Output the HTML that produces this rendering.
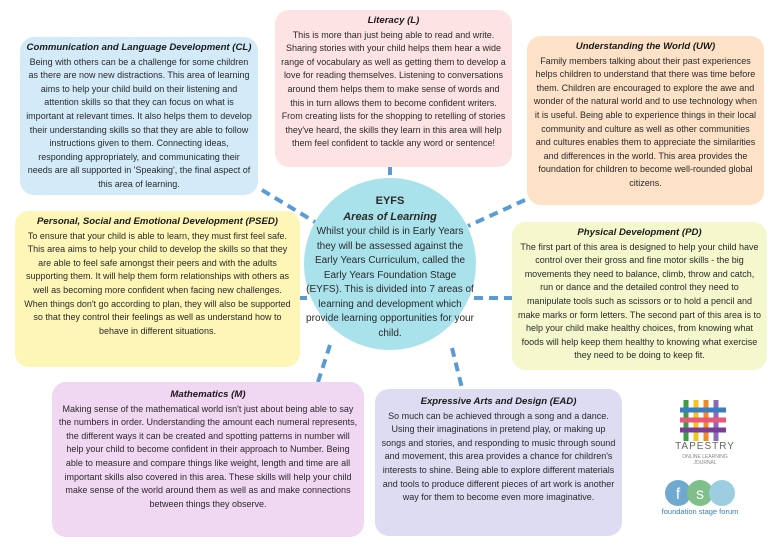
<!DOCTYPE html>
<html><head><meta charset="utf-8"><style>
body{margin:0;width:780px;height:549px;background:#fff;position:relative;overflow:hidden;font-family:"Liberation Sans",sans-serif;color:#2a2a2a}
.b{position:absolute;border-radius:14px;text-align:center;font-size:9px;line-height:13.6px;box-sizing:border-box;padding:4px 6px}
.b h{display:block;font-weight:bold;font-style:italic;font-size:9.6px;color:#1a1a1a;margin-bottom:1px}
</style></head><body>
<svg width="780" height="549" style="position:absolute;left:0;top:0">
<g stroke="#5b9bd5" stroke-width="4" stroke-dasharray="9,6" fill="none">
<line x1="262" y1="190" x2="315" y2="222"/>
<line x1="390" y1="166" x2="390" y2="182"/>
<line x1="525" y1="200" x2="468" y2="226"/>
<line x1="298" y1="298" x2="308" y2="298"/>
<line x1="474" y1="298" x2="514" y2="298"/>
<line x1="330" y1="345" x2="318" y2="382"/>
<line x1="452" y1="348" x2="462" y2="388"/>
</g>
<circle cx="390" cy="264" r="86" fill="#a9e2eb"/>
</svg>
<div class="b" style="left:20px;top:37px;width:238px;height:158px;background:#d3eaf9"><h>Communication and Language Development (CL)</h>Being with others can be a challenge for some children as there are now new distractions. This area of learning aims to help your child build on their listening and attention skills so that they can focus on what is important at relevant times. It also helps them to develop their understanding skills so that they are able to follow instructions given to them. Connecting ideas, responding appropriately, and communicating their needs are all supported in 'Speaking', the final aspect of this area of learning.</div>
<div class="b" style="left:275px;top:10px;width:237px;height:157px;background:#fde3e3"><h>Literacy (L)</h>This is more than just being able to read and write. Sharing stories with your child helps them hear a wide range of vocabulary as well as getting them to develop a love for reading themselves. Listening to conversations around them helps them to make sense of words and this in turn allows them to become confident writers. From creating lists for the shopping to retelling of stories they've heard, the skills they learn in this area will help them feel confident to tackle any word or sentence!</div>
<div class="b" style="left:527px;top:36px;width:237px;height:169px;background:#fde2c7"><h>Understanding the World (UW)</h>Family members talking about their past experiences helps children to understand that there was time before them. Children are encouraged to explore the awe and wonder of the natural world and to use technology when it is useful. Being able to experience things in their local community and culture as well as other communities and cultures enables them to appreciate the similarities and differences in the world. This area provides the foundation for children to become well-rounded global citizens.</div>
<div class="b" style="left:15px;top:211px;width:285px;height:156px;background:#fdf6b6"><h>Personal, Social and Emotional Development (PSED)</h>To ensure that your child is able to learn, they must first feel safe. This area aims to help your child to develop the skills so that they are able to feel safe amongst their peers and with the adults supporting them. It will help them form relationships with others as well as becoming more confident when facing new challenges. When things don't go according to plan, they will also be supported so that they control their feelings as well as understand how to behave in different situations.</div>
<div class="b" style="left:512px;top:222px;width:255px;height:148px;background:#f5f7cd"><h>Physical Development (PD)</h>The first part of this area is designed to help your child have control over their gross and fine motor skills - the big movements they need to balance, climb, throw and catch, run or dance and the detailed control they need to manipulate tools such as scissors or to hold a pencil and make marks or form letters. The second part of this area is to help your child make healthy choices, from knowing what foods will help keep them healthy to knowing what exercise they need to be doing to keep fit.</div>
<div class="b" style="left:52px;top:382px;width:312px;height:155px;background:#f0d7f2;padding-top:6px"><h>Mathematics (M)</h>Making sense of the mathematical world isn't just about being able to say the numbers in order. Understanding the amount each numeral represents, the different ways it can be created and spotting patterns in number will help your child to become confident in their approach to Number. Being able to measure and compare things like weight, length and time are all important skills also covered in this area. These skills will help your child make sense of the world around them as well as and make connections between things they observe.</div>
<div class="b" style="left:375px;top:389px;width:247px;height:147px;background:#dddcf2;padding-top:6px"><h>Expressive Arts and Design (EAD)</h>So much can be achieved through a song and a dance. Using their imaginations in pretend play, or making up songs and stories, and responding to music through sound and movement, this area provides a chance for children's interests to shine. Being able to explore different materials and tools to produce different pieces of art work is another way for them to become even more imaginative.</div>
<div style="position:absolute;left:306px;top:194px;width:168px;text-align:center;font-size:10px;line-height:14.5px">
<b style="font-size:11px">EYFS</b><br><b><i style="font-size:11px">Areas of Learning</i></b><br>Whilst your child is in Early Years they will be assessed against the Early Years Curriculum, called the Early Years Foundation Stage (EYFS). This is divided into 7 areas of learning and development which provide learning opportunities for your child.</div>
<svg width="50" height="45" style="position:absolute;left:678px;top:398px">
<g stroke-width="5"><line x1="8" y1="2" x2="8" y2="43" stroke="#3a9e47"/><line x1="18" y1="2" x2="18" y2="43" stroke="#f4c51a"/><line x1="28" y1="2" x2="28" y2="43" stroke="#f08a24"/><line x1="38" y1="2" x2="38" y2="43" stroke="#8a6ab5"/>
<line x1="2" y1="12" x2="48" y2="12" stroke="#3b7cc2"/><line x1="2" y1="22" x2="48" y2="22" stroke="#e9577a"/><line x1="2" y1="32" x2="48" y2="32" stroke="#7a3d9a"/></g></svg>
<div style="position:absolute;left:660px;top:441px;width:90px;text-align:center;color:#666;font-size:10px;letter-spacing:1px">TAPESTRY</div>
<div style="position:absolute;left:660px;top:454px;width:90px;text-align:center;color:#888;font-size:5px;line-height:6px">ONLINE LEARNING<br>JOURNAL</div>
<svg width="80" height="40" style="position:absolute;left:660px;top:476px">
<circle cx="18" cy="17" r="13" fill="#6fa9cf"/><circle cx="40" cy="17" r="13" fill="#7fbf8a"/><circle cx="62" cy="17" r="13" fill="#9dcde0"/>
<text x="18" y="23" font-size="16" fill="#fff" text-anchor="middle" font-family="Liberation Sans">f</text><text x="40" y="23" font-size="16" fill="#fff" text-anchor="middle" font-family="Liberation Sans">s</text>
<text x="40" y="38" font-size="7.5" fill="#3b7cc2" text-anchor="middle" font-family="Liberation Sans">foundation stage forum</text></svg>
</body></html>
